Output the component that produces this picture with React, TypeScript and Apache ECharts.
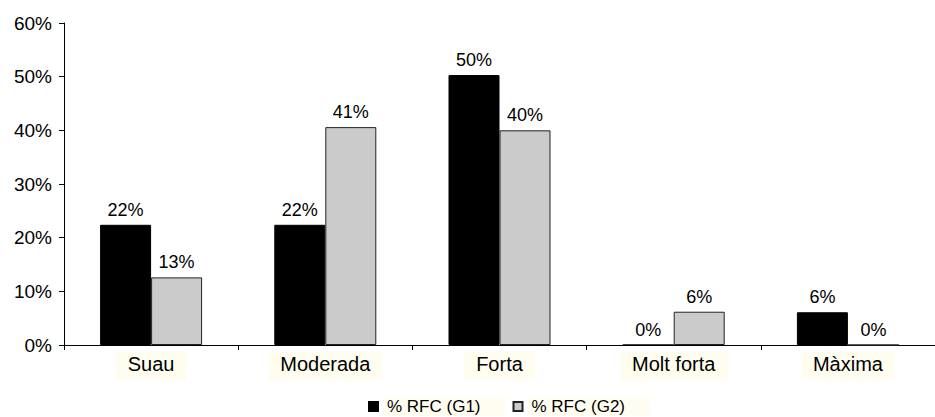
import React, { useEffect, useRef } from "react";
import * as echarts from "echarts";

const categories = ["Suau", "Moderada", "Forta", "Molt forta", "Màxima"];
const seriesNames = ["% RFC (G1)", "% RFC (G2)"];
const g1Values = [22.4, 22.4, 50.3, 0, 6.1];
const g2Values = [12.6, 40.6, 40.0, 6.2, 0];
const yTicks = [0, 10, 20, 30, 40, 50, 60];

const FONT = "'Liberation Sans', Arial, Helvetica, sans-serif";

export default function App() {
  const ref = useRef<HTMLDivElement>(null);
  useEffect(() => {
    document.body.style.margin = "0";
    if (!ref.current) return;
    const chart = echarts.init(ref.current, undefined, { renderer: "svg" });
    const labelCfg = {
      show: true,
      position: "top",
      distance: 6,
      color: "#000",
      fontSize: 18,
      fontFamily: FONT,
      formatter: (p: any) => Math.round(p.value) + "%",
    };
    chart.setOption({
      animation: false,
      backgroundColor: "#fff",
      textStyle: { fontFamily: FONT },
      grid: { left: 64, top: 23, width: 880, height: 322, containLabel: false },
      legend: {
        data: seriesNames,
        left: 368,
        top: 397,
        padding: 0,
        icon: "rect",
        itemWidth: 9,
        itemHeight: 9,
        itemGap: 8,
        textStyle: {
          fontSize: 17,
          fontFamily: FONT,
          color: "#000",
          backgroundColor: "#fffdf0",
          padding: [1, 24, 1, 4],
        },
      },
      xAxis: {
        type: "category",
        data: categories,
        axisLine: { show: true, lineStyle: { color: "#000", width: 1 } },
        axisTick: { show: true, length: 5, lineStyle: { color: "#000" } },
        axisLabel: {
          color: "#000",
          fontSize: 20,
          fontFamily: FONT,
          margin: 6,
          backgroundColor: "#fffdf0",
          padding: [3, 12, 6, 12],
        },
        splitLine: { show: false },
      },
      yAxis: {
        type: "value",
        min: yTicks[0],
        max: yTicks[yTicks.length - 1],
        interval: 10,
        axisLine: { show: true, lineStyle: { color: "#000", width: 1 } },
        axisTick: { show: true, length: 5, lineStyle: { color: "#000" } },
        axisLabel: {
          color: "#000",
          fontSize: 19,
          fontFamily: FONT,
          margin: 12,
          formatter: (v: number) => v + "%",
        },
        splitLine: { show: false },
      },
      series: [
        {
          name: seriesNames[0],
          type: "bar",
          data: g1Values,
          barWidth: 51,
          barGap: "0%",
          itemStyle: { color: "#000", borderColor: "#000", borderWidth: 1 },
          label: labelCfg,
        },
        {
          name: seriesNames[1],
          type: "bar",
          data: g2Values,
          barWidth: 51,
          barGap: "0%",
          itemStyle: { color: "#cbcbcb", borderColor: "#222", borderWidth: 1 },
          label: labelCfg,
        },
      ],
    });
    return () => chart.dispose();
  }, []);
  return <div ref={ref} style={{ width: 935, height: 417 }} />;
}
